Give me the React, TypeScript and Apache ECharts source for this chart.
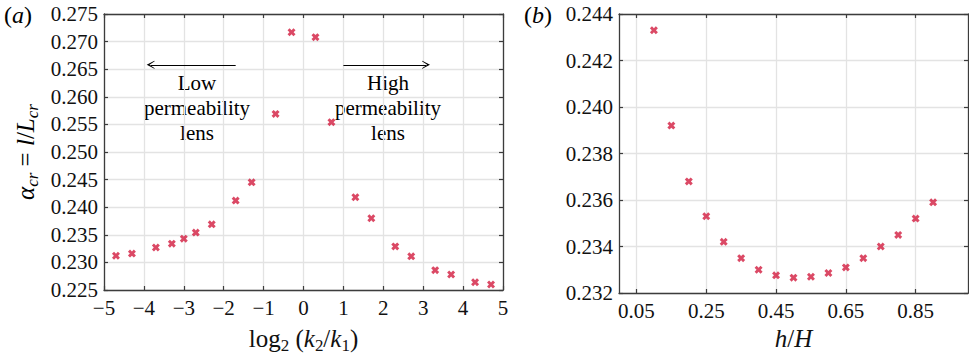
import React, { useEffect, useRef } from "react";
import * as echarts from "echarts";

// Panel (a): log2(k2/k1) vs alpha_cr
const leftX = [-4.7, -4.3, -3.7, -3.3, -3.0, -2.7, -2.3, -1.7, -1.3, -0.7, -0.3, 0.3, 0.7, 1.3, 1.7, 2.3, 2.7, 3.3, 3.7, 4.3, 4.7];
const leftY = [0.2312, 0.2316, 0.2327, 0.2334, 0.2343, 0.2354, 0.2369, 0.2412, 0.2445, 0.2569, 0.2717, 0.2708, 0.2554, 0.2418, 0.2380, 0.2329, 0.2311, 0.2286, 0.2278, 0.2264, 0.2260];

// Panel (b): h/H vs alpha_cr
const rightX = [0.10, 0.15, 0.20, 0.25, 0.30, 0.35, 0.40, 0.45, 0.50, 0.55, 0.60, 0.65, 0.70, 0.75, 0.80, 0.85, 0.90];
const rightY = [0.2433, 0.2392, 0.2368, 0.2353, 0.2342, 0.2335, 0.2330, 0.23276, 0.23266, 0.2327, 0.23286, 0.2331, 0.2335, 0.2340, 0.2345, 0.2352, 0.2359];

// Axis ticks
const leftXRange = [-5, 5, 1];
const leftYRange = [0.225, 0.275, 0.005];
const rightXRange = [0, 1];
const rightXTickValues = [0.05, 0.25, 0.45, 0.65, 0.85];
const rightYRange = [0.232, 0.244, 0.002];

// Annotation arrows (data coordinates)
const arrowY = 0.2658;
const lowArrow = [-1.7, -3.83];
const highArrow = [1.0, 3.07];

const FONT = "'Liberation Serif', 'Times New Roman', serif";
const RED = "#d21b3f";
const AXIS_COLOR = "#3c3c3c";
const GRID_COLOR = "#e3e3e3";
const TEXT_COLOR = "#111";
const X_SYMBOL =
  "path://M0,2.6 L2.6,0 L5,2.4 L7.4,0 L10,2.6 L7.6,5 L10,7.4 L7.4,10 L5,7.6 L2.6,10 L0,7.4 L2.4,5 Z";
const ARROW_SYMBOL = "path://M5,0 L10,11 L9.3,11.4 L5,4 L5,4 L0.7,11.4 L0,11 Z";

const subStyle = { fontFamily: FONT, fontSize: 17, color: TEXT_COLOR, padding: [14, 0, 0, 0] };
const richStyles = {
  n: { fontFamily: FONT, fontSize: 25, color: TEXT_COLOR },
  i: { fontFamily: FONT, fontSize: 25, fontStyle: "italic", color: TEXT_COLOR },
  s: subStyle,
  si: { ...subStyle, fontStyle: "italic" },
};
const labelRich = {
  n: { fontFamily: FONT, fontSize: 21, color: TEXT_COLOR },
};

const minusFmt = (v: number) => "{n|" + String(v).replace("-", "\u2212") + "}";

const lineStyle = { color: AXIS_COLOR, width: 1.3 };
const tickStyle = { color: AXIS_COLOR, width: 1.2 };

function mainXAxis(gridIndex: number, extra: any) {
  return {
    type: "value",
    gridIndex,
    position: "bottom",
    axisLine: { show: true, onZero: false, lineStyle },
    axisTick: { show: true, inside: true, length: 4, lineStyle: tickStyle },
    splitLine: { show: true, lineStyle: { color: GRID_COLOR, width: 1.3 } },
    nameLocation: "middle",
    nameTextStyle: { rich: richStyles },
    ...extra,
  };
}
function mirrorXAxis(gridIndex: number, extra: any) {
  return {
    type: "value",
    gridIndex,
    position: "top",
    axisLine: { show: true, onZero: false, lineStyle },
    axisTick: { show: true, inside: true, length: 4, lineStyle: tickStyle },
    axisLabel: { show: false },
    splitLine: { show: false },
    ...extra,
  };
}
function mainYAxis(gridIndex: number, extra: any) {
  return {
    type: "value",
    gridIndex,
    position: "left",
    axisLine: { show: true, onZero: false, lineStyle },
    axisTick: { show: true, inside: true, length: 4, lineStyle: tickStyle },
    axisLabel: {
      fontFamily: FONT, fontSize: 21, color: TEXT_COLOR, margin: 6,
      rich: labelRich,
      formatter: (v: number) => "{n|" + v.toFixed(3) + "}",
    },
    splitLine: { show: true, lineStyle: { color: GRID_COLOR, width: 1.3 } },
    ...extra,
  };
}
function mirrorYAxis(gridIndex: number, extra: any) {
  return {
    type: "value",
    gridIndex,
    position: "right",
    axisLine: { show: true, onZero: false, lineStyle },
    axisTick: { show: true, inside: true, length: 4, lineStyle: tickStyle },
    axisLabel: { show: false },
    splitLine: { show: false },
    ...extra,
  };
}

export default function App() {
  const ref = useRef<HTMLDivElement>(null);
  useEffect(() => {
    if (!ref.current) return;
    const chart = echarts.init(ref.current, null, { renderer: "svg" });
    const lx = { min: leftXRange[0], max: leftXRange[1], interval: leftXRange[2] };
    const ly = { min: leftYRange[0], max: leftYRange[1], interval: leftYRange[2] };
    const rx = { min: rightXRange[0], max: rightXRange[1] };
    const ry = { min: rightYRange[0], max: rightYRange[1], interval: rightYRange[2] };
    const annotStyle = (text: string) => ({
      text,
      textAlign: "center",
      textVerticalAlign: "top",
      rich: { n: { fontFamily: FONT, fontSize: 21, lineHeight: 25, color: TEXT_COLOR } },
    });
    const panelLabelRich = {
      n: { fontFamily: FONT, fontSize: 24, color: TEXT_COLOR },
      i: { fontFamily: FONT, fontSize: 24, fontStyle: "italic", color: TEXT_COLOR },
    };
    const option: any = {
      animation: false,
      backgroundColor: "#ffffff",
      textStyle: { fontFamily: FONT },
      grid: [
        { left: 104, top: 14, width: 399, height: 277 },
        { left: 619, top: 14, width: 349, height: 279 },
      ],
      xAxis: [
        mainXAxis(0, {
          ...lx,
          axisLabel: { fontFamily: FONT, fontSize: 21, color: TEXT_COLOR, margin: 7, rich: labelRich, formatter: minusFmt },
          name: "{n|log}{s|2}{n| (}{i|k}{s|2}{n|/}{i|k}{s|1}{n|)}",
          nameGap: 33,
        }),
        mirrorXAxis(0, { ...lx }),
        mainXAxis(1, {
          ...rx,
          axisTick: {
            show: true, inside: true, length: 4, customValues: rightXTickValues, lineStyle: tickStyle,
          },
          axisLabel: {
            fontFamily: FONT, fontSize: 21, color: TEXT_COLOR, margin: 7, rich: labelRich,
            customValues: rightXTickValues, formatter: (v: number) => "{n|" + v.toFixed(2) + "}",
          },
          name: "{i|h}{n|/}{i|H}",
          nameGap: 31,
        }),
        mirrorXAxis(1, {
          ...rx,
          axisTick: {
            show: true, inside: true, length: 4, customValues: rightXTickValues, lineStyle: tickStyle,
          },
        }),
      ],
      yAxis: [
        mainYAxis(0, { ...ly }),
        mirrorYAxis(0, { ...ly }),
        mainYAxis(1, { ...ry }),
        mirrorYAxis(1, { ...ry }),
      ],
      series: [
        {
          type: "scatter",
          xAxisIndex: 0,
          yAxisIndex: 0,
          data: leftX.map((x, i) => [x, leftY[i]]),
          symbol: X_SYMBOL,
          symbolSize: 8,
          itemStyle: { color: RED },
          markLine: {
            silent: true,
            symbol: ["none", ARROW_SYMBOL],
            symbolSize: 8,
            label: { show: false },
            lineStyle: { color: "#000", width: 1.2, type: "solid" },
            data: [
              [{ coord: [lowArrow[0], arrowY] }, { coord: [lowArrow[1], arrowY] }],
              [{ coord: [highArrow[0], arrowY] }, { coord: [highArrow[1], arrowY] }],
            ],
          },
        },
        {
          type: "scatter",
          xAxisIndex: 2,
          yAxisIndex: 2,
          data: rightX.map((x, i) => [x, rightY[i]]),
          symbol: X_SYMBOL,
          symbolSize: 8,
          itemStyle: { color: RED },
        },
      ],
      graphic: [
        {
          type: "text",
          x: 4,
          y: 15,
          style: { text: "{n|(}{i|a}{n|)}", textVerticalAlign: "middle", rich: panelLabelRich },
        },
        {
          type: "text",
          x: 524,
          y: 15,
          style: { text: "{n|(}{i|b}{n|)}", textVerticalAlign: "middle", rich: panelLabelRich },
        },
        {
          type: "text",
          x: 197,
          y: 70,
          style: annotStyle("{n|Low}\n{n|permeability}\n{n|lens}"),
        },
        {
          type: "text",
          x: 388,
          y: 70,
          style: annotStyle("{n|High}\n{n|permeability}\n{n|lens}"),
        },
        {
          type: "text",
          x: 25,
          y: 152,
          rotation: Math.PI / 2,
          style: {
            text: "{i|\u03b1}{si|cr}{n| = }{i|l}{n|/}{i|L}{si|cr}",
            textAlign: "center",
            textVerticalAlign: "middle",
            rich: richStyles,
          },
        },
      ],
    };
    chart.setOption(option);
    return () => chart.dispose();
  }, []);
  return (
    <div
      ref={ref}
      style={{ position: "absolute", left: 0, top: 0, width: 969, height: 359, background: "#fff" }}
    />
  );
}
